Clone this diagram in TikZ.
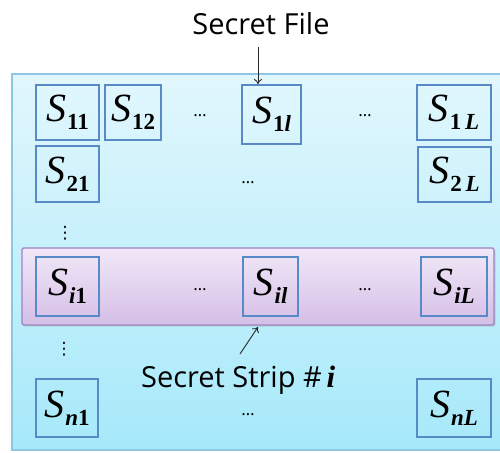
\documentclass[tikz,border=0pt]{standalone}
\usepackage{fontspec}
\setmainfont{Liberation Serif}
\newfontfamily\labfont{Open Sans}
\newfontfamily\symfont{DejaVu Sans}
\usetikzlibrary{shadows,arrows.meta}
\definecolor{cellblue}{RGB}{88,138,200}
\definecolor{outerline}{RGB}{140,200,225}
\definecolor{outtop}{RGB}{226,247,253}
\definecolor{outbot}{RGB}{166,233,250}
\definecolor{striptop}{RGB}{241,232,248}
\definecolor{stripbot}{RGB}{212,190,230}
\definecolor{stripline}{RGB}{160,130,195}
\newcommand{\Sv}[1]{{\fontsize{40}{40}\selectfont\textit{S}}\kern1pt\raisebox{-8pt}{\fontsize{23}{23}\selectfont #1}}
\tikzset{
  cell/.style={draw=cellblue, line width=1.8pt, inner sep=0pt, align=center},
  hdots/.style={font=\labfont\fontsize{17}{17}\selectfont, inner sep=0pt},
  vdotsn/.style={font=\symfont\fontsize{17}{17}\selectfont, inner sep=0pt},
  lab/.style={font=\labfont\fontsize{29}{29}\selectfont, inner sep=0pt},
  thinarrow/.style={-{To[length=5pt,width=8pt]}, line width=0.9pt, black!85}
}
\begin{document}
\begin{tikzpicture}[x=1pt,y=-1pt]
\useasboundingbox (0,0) rectangle (500,452);
% outer file
\shade[top color=outtop, bottom color=outbot, draw=outerline, line width=1.2pt] (12,74) rectangle (508,450);
% strip
\shade[top color=striptop, bottom color=stripbot, draw=stripline, line width=1.2pt, rounded corners=1.5pt, drop shadow={opacity=0.25, shadow xshift=1.5pt, shadow yshift=-1.5pt}] (22,248) rectangle (494,325);
% cells
\node[cell, minimum width=63pt, minimum height=55pt] (s11) at (67.5,112.5) {\Sv{\textbf{11}}};
\node[cell, minimum width=56pt, minimum height=55pt] (s12) at (133,112.5) {\Sv{\textbf{12}}};
\node[cell, minimum width=59pt, minimum height=59pt] (s1l) at (271.5,114.5) {\Sv{\textbf{1\textit{l}}}};
\node[cell, minimum width=74pt, minimum height=55pt] (s1L) at (454,112.5) {\Sv{\textbf{1\,\textit{L}}}};
\node[cell, minimum width=63pt, minimum height=56pt] (s21) at (67.5,174) {\Sv{\textbf{21}}};
\node[cell, minimum width=73pt, minimum height=55pt] (s2L) at (454.5,174.5) {\Sv{\textbf{2\,\textit{L}}}};
\node[cell, minimum width=63pt, minimum height=59pt] (si1) at (67.5,286.5) {\Sv{\textbf{\textit{i}1}}};
\node[cell, minimum width=55pt, minimum height=59pt] (sil) at (270.5,286.5) {\Sv{\textbf{\textit{il}}}};
\node[cell, minimum width=66pt, minimum height=59pt] (siL) at (454,286.5) {\Sv{\textbf{\textit{iL}}}};
\node[cell, minimum width=62pt, minimum height=58pt] (sn1) at (67,408) {\Sv{\textbf{\textit{n}1}}};
\node[cell, minimum width=74pt, minimum height=58pt] (snL) at (454,408) {\Sv{\textbf{\textit{nL}}}};
% dots
\node[hdots] (d1) at (200,116) {…};
\node[hdots] (d2) at (365,116) {…};
\node[hdots] (d3) at (248,183) {…};
\node[hdots] (d4) at (200,290) {…};
\node[hdots] (d5) at (365,290) {…};
\node[hdots] (d6) at (248,415) {…};
\node[vdotsn] (v1) at (65,233) {⋮};
\node[vdotsn] (v2) at (64,349) {⋮};
% labels
\node[lab] (file) at (261,24) {Secret File};
\node[lab, anchor=west] (strip) at (141,380) {Secret Strip \#\,{\fontsize{31}{31}\selectfont\rmfamily\bfseries\itshape i}};
\coordinate (fa) at (258,47);
\coordinate (sa) at (240,354);
\draw[thinarrow] (fa) -- (s1l.north -| fa);
\draw[thinarrow] (sa) -- (258,327);
\end{tikzpicture}
\end{document}
